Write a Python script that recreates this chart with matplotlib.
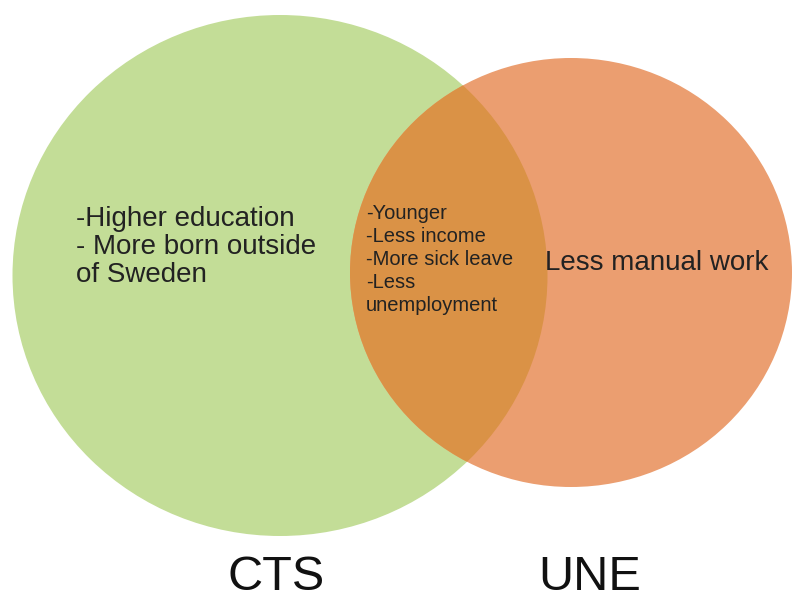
import matplotlib.pyplot as plt
from matplotlib.patches import Ellipse

# --- Venn content ---
set_labels = ["CTS", "UNE"]
only_cts = ["-Higher education", "- More born outside", "of Sweden"]
both = ["-Younger", "-Less income", "-More sick leave", "-Less", "unemployment"]
only_une = ["Less manual work"]

# --- layout in pixel coords (y downwards) ---
W, H = 794, 601
cts_xy, cts_w, cts_h = (280, 275.5), 535, 521
une_xy, une_w, une_h = (571, 272.5), 442, 429

green = "#c3dd97"
orange = "#eb9e70"
overlap = "#da9246"

plt.rcParams['font.family'] = ['Liberation Sans', 'DejaVu Sans']

fig = plt.figure(figsize=(W / 100, H / 100), dpi=100)
ax = fig.add_axes([0, 0, 1, 1])
ax.set_xlim(0, W)
ax.set_ylim(H, 0)
ax.axis('off')

cts = Ellipse(cts_xy, cts_w, cts_h, color=green, lw=0)
une = Ellipse(une_xy, une_w, une_h, color=orange, lw=0)
ax.add_patch(cts)
ax.add_patch(une)

# intersection: second orange ellipse clipped to the green one
mid = Ellipse(une_xy, une_w, une_h, color=overlap, lw=0)
ax.add_patch(mid)
mid.set_clip_path(cts)

txt = "#222222"
ax.text(76, 206, "\n".join(only_cts), fontsize=20, color=txt,
        va='top', ha='left', linespacing=1.1)
ax.text(366, 204, "\n".join(both), fontsize=14.5, color=txt,
        va='top', ha='left', linespacing=1.27)
ax.text(545, 263, only_une[0], fontsize=20, color=txt,
        va='center', ha='left')

ax.text(276, 600, set_labels[0], fontsize=35, color="#111111",
        va='bottom', ha='center')
ax.text(590, 600, set_labels[1], fontsize=35, color="#111111",
        va='bottom', ha='center')

fig.savefig("out.png", dpi=100, facecolor='white')
